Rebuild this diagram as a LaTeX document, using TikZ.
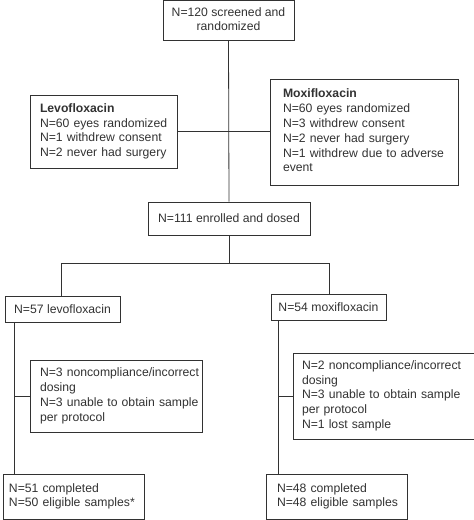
\documentclass[tikz,border=0pt]{standalone}
\usepackage{fontspec}
\setmainfont{Liberation Sans}
\definecolor{ink}{RGB}{50,50,50}
\newcommand{\lines}[1]{\begin{tabular}{@{}l@{}}#1\end{tabular}}
\newcommand{\clines}[1]{\begin{tabular}{@{}c@{}}#1\end{tabular}}
\begin{document}
\begin{tikzpicture}[x=1pt,y=-1pt,
  box/.style={draw=ink, line width=0.8pt, rectangle, text=ink, inner ysep=0pt,
    font=\fontsize{12.2}{14.8}\selectfont},
  cbox/.style={box, align=center},
  lbox/.style={box, align=left},
  link/.style={draw=ink, line width=0.8pt}]
\useasboundingbox (0,0) rectangle (474,520);
\node[cbox, minimum width=131pt, minimum height=40pt] (top) at (228.5,20.5) {\clines{N=120 screened and\\randomized}};
\node[lbox, inner xsep=10pt, text width=127pt, minimum height=73pt] (levo) at (103.5,131.5)
  {\lines{\textbf{Levofloxacin}\\N=60 eyes randomized\\N=1 withdrew consent\\N=2 never had surgery}};
\node[lbox, inner xsep=13pt, text width=162pt, minimum height=106pt] (moxi) at (364,132)
  {\lines{\textbf{Moxifloxacin}\\N=60 eyes randomized\\N=3 withdrew consent\\N=2 never had surgery\\N=1 withdrew due to adverse\\event}};
\node[cbox, minimum width=162pt, minimum height=33pt] (enr) at (229,218.5) {N=111 enrolled and dosed};
\node[cbox, minimum width=115pt, minimum height=26pt] (l57) at (62.5,309) {N=57 levofloxacin};
\node[cbox, minimum width=115pt, minimum height=26pt] (m54) at (328.5,307) {N=54 moxifloxacin};
\node[lbox, inner xsep=10pt, text width=152pt, minimum height=72pt] (exl) at (116,396)
  {\lines{N=3 noncompliance/incorrect\\dosing\\N=3 unable to obtain sample\\per protocol}};
\node[lbox, inner xsep=9pt, text width=163pt, minimum height=86pt] (exr) at (383.5,396)
  {\lines{N=2 noncompliance/incorrect\\dosing\\N=3 unable to obtain sample\\per protocol\\N=1 lost sample}};
\node[lbox, inner xsep=6pt, text width=129pt, minimum height=45pt] (fl) at (73.5,496.5)
  {\lines{N=51 completed\\N=50 eligible samples*}};
\node[lbox, inner xsep=11pt, text width=119pt, minimum height=45pt] (fr) at (336.5,496.5)
  {\lines{N=48 completed\\N=48 eligible samples}};
\coordinate (br) at (229,263);
\coordinate (brl) at (61,263);
\coordinate (brr) at (329,263);
\coordinate (jl) at (14,396);
\coordinate (jr) at (278,396);
\draw[link] (top.south) -- (enr.north);
\draw[link] (levo.east) -- (moxi.west|-levo.east);
\draw[link] (enr.south) -- (br);
\draw[link] (brl) -- (brr);
\draw[link] (brl) -- (brl|-l57.north);
\draw[link] (brr) -- (brr|-m54.north);
\draw[link] (jl|-l57.south) -- (jl|-fl.north);
\draw[link] (jl) -- (exl.west);
\draw[link] (jr|-m54.south) -- (jr|-fr.north);
\draw[link] (jr) -- (exr.west);
\end{tikzpicture}
\end{document}
